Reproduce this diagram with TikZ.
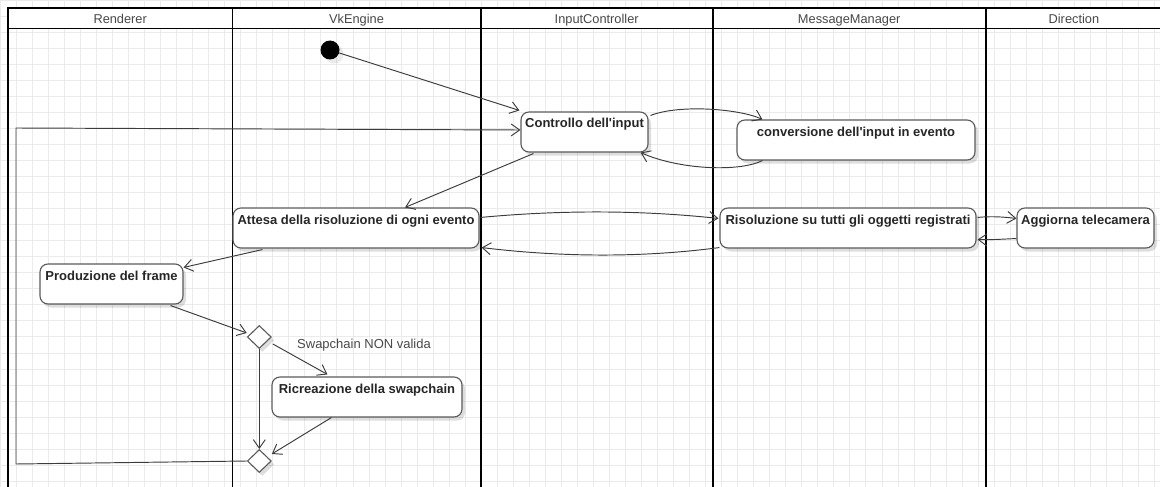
\documentclass[tikz,border=0pt]{standalone}
\usepackage{fontspec}
\setmainfont{Liberation Sans}[Ligatures=TeXOff]
\usetikzlibrary{arrows.meta,shapes.geometric,shadows,calc}
\definecolor{gridc}{HTML}{EBEBEB}
\definecolor{inkc}{HTML}{3C3C3C}
\definecolor{edgec}{HTML}{5A5A5A}
\definecolor{lanetxt}{HTML}{484848}
\begin{document}
\begin{tikzpicture}[x=1pt,y=-1pt,
  softshadow/.style={drop shadow={shadow xshift=3pt, shadow yshift=-3.5pt, fill=black, opacity=0.13}},
  actbox/.style={draw=edgec, line width=1.1pt, fill=white, rounded corners=8pt,
    inner xsep=2pt, inner ysep=4pt, text height=12pt, text depth=20pt,
    minimum height=40pt, font=\fontsize{13}{15}\selectfont\bfseries, text=black!85, softshadow},
  decision/.style={diamond, draw=edgec, line width=1.1pt, fill=white, inner sep=0pt,
    minimum width=24pt, minimum height=23pt, softshadow},
  startdot/.style={circle, fill=black, inner sep=0pt, minimum size=19pt,
    drop shadow={shadow xshift=4pt, shadow yshift=-4pt, fill=black, opacity=0.08}},
  lanehead/.style={anchor=base, font=\fontsize{12.8}{15}\selectfont, text=lanetxt, inner sep=0pt},
  edgelabel/.style={anchor=base west, font=\fontsize{13}{15}\selectfont, text=lanetxt, inner sep=0pt},
  flow/.style={draw=inkc, line width=0.95pt, line join=miter,
    -{Straight Barb[length=8.5pt,width=12pt]}},
  laneline/.style={draw=black, line width=1.8pt}
]
\useasboundingbox (0,0) rectangle (1160,487);
\clip (0,0) rectangle (1160,487);

% background grid
\foreach \i in {0,...,72}
  \draw[gridc, line width=0.9pt] ({0.3+16.03*\i},0) -- ({0.3+16.03*\i},487);
\foreach \j in {0,...,30}
  \draw[gridc, line width=0.9pt] (0,{0.3+16.03*\j}) -- (1160,{0.3+16.03*\j});

% swimlanes
\fill[white] (8,8) rectangle (1162,28.5);
\draw[laneline] (8,8) rectangle (1162,520);
\draw[laneline] (8,28.5) -- (1162,28.5);
\foreach \x in {232.3,480.7,712.7,985.7}
  \draw[line width=1.6pt] (\x,8) -- (\x,500);

\node[lanehead] (hRend) at (120.2,24) {Renderer};
\node[lanehead] (hVk)   at (356.5,24) {VkEngine};
\node[lanehead] (hIn)   at (596.7,24) {InputController};
\node[lanehead] (hMsg)  at (849.2,24) {MessageManager};
\node[lanehead] (hDir)  at (1073.9,24) {Direction};

% activities
\node[startdot] (start) at (330,50) {};
\node[actbox, minimum width=127pt] (ctrl)   at (584.5,132) {Controllo dell'input};
\node[actbox, minimum width=238pt] (conv)   at (856,140)   {conversione dell'input in evento};
\node[actbox, minimum width=246pt] (attesa) at (356,228)   {Attesa della risoluzione di ogni evento};
\node[actbox, minimum width=256pt] (risol)  at (848,228)   {Risoluzione su tutti gli oggetti registrati};
\node[actbox, minimum width=137pt] (aggi)   at (1085.5,228) {Aggiorna telecamera};
\node[actbox, minimum width=143pt] (prod)   at (111.5,284) {Produzione del frame};
\node[actbox, minimum width=190pt] (ricre)  at (367,397)   {Ricreazione della swapchain};
\node[decision] (dia1) at (259.3,337) {};
\node[decision] (dia2) at (259.3,461) {};

% flows
\draw[flow] (start) -- ($(ctrl.north west)+(-1,-1)$);
\draw[flow] ($(ctrl.north east)+(2,4)$) .. controls (680,104) and (740,109) .. ($(conv.north west)+(26,0)$);
\draw[flow] ($(conv.south west)+(26,0)$) .. controls (740,172) and (680,170) .. ($(ctrl.south east)+(-8,0)$);
\draw[flow] ($(ctrl.south west)+(13,1)$) -- ($(attesa.north)+(49,0)$);
\draw[flow] ($(attesa.north east)+(1,10)$) .. controls (560,210) and (640,210) .. ($(risol.north west)+(-1,11)$);
\draw[flow] ($(risol.south west)+(0,-1)$) .. controls (640,258) and (560,257) .. ($(attesa.south east)+(2,-1)$);
\draw[flow] ($(risol.north east)+(1,10)$) .. controls (992,216) and (1004,217) .. ($(aggi.north west)+(0,11)$);
\draw[flow] ($(aggi.south west)+(0,-10)$) .. controls (1004,239) and (992,240) .. ($(risol.south east)+(1,-9)$);
\draw[flow] ($(attesa.south west)+(30,1)$) -- ($(prod.north east)+(0,4)$);
\draw[flow] ($(prod.south east)+(-13,1)$) -- ($(dia1.west)+(0,-4)$);
\draw[flow] ($(dia1.east)+(1,7)$) -- ($(ricre.north west)+(56,-2)$);
\node[edgelabel] (swlbl) at (297,348.5) {Swapchain NON valida};
\draw[flow] (dia1.south) -- (dia2.north);
\draw[flow] ($(ricre.south west)+(60,0)$) -- ($(dia2.east)+(0,-7)$);

% loop back to the input check
\coordinate (loopA) at (16,464);
\coordinate (loopB) at (16,128);
\draw[flow] (dia2.west) -- (loopA) -- (loopB) -- ($(ctrl.west)+(0,-2)$);
\end{tikzpicture}
\end{document}
